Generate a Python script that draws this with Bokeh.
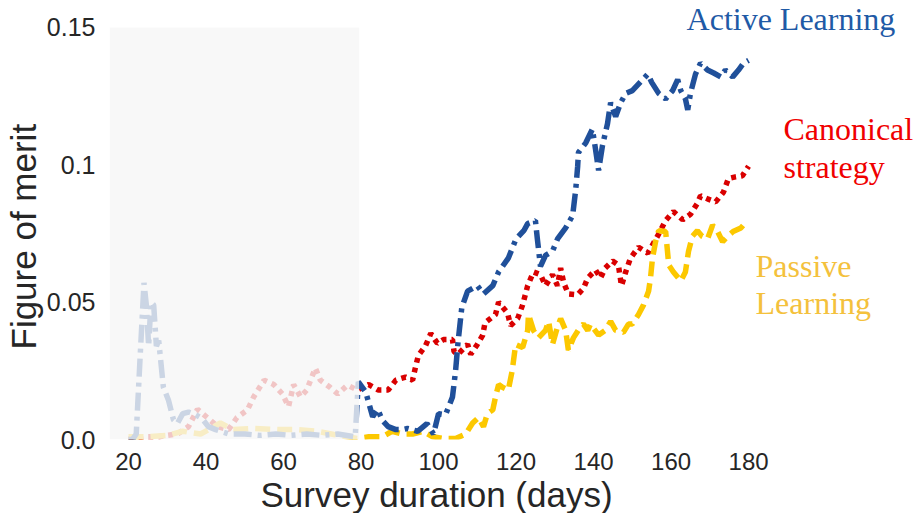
from bokeh.plotting import figure
from bokeh.models import BoxAnnotation, Label, FixedTicker, Range1d, Title
from bokeh.embed import file_html
from bokeh.resources import INLINE

# ---- data ----
active_days = [20, 21, 22, 23, 24, 24.6, 25.2, 25.8, 26.5, 27.2,
               27.8, 29, 30.3, 31.6, 32.6, 34, 35.5, 37.3, 39, 40.6,
               42.5, 46, 50, 54, 58, 62, 66, 70, 74, 78.5,
               79.3, 81.2, 83, 84.3, 85.5, 87, 89, 90.7, 92, 94.6,
               97, 98.7, 100, 101.8, 103.6, 104.4, 105, 106, 107.5, 110,
               111.6, 114, 115.5, 118, 120, 122, 123, 125, 125.5, 126.3,
               127.6, 129.4, 130.7, 132.8, 134.6, 135.4, 135.9, 136.1, 138, 139.7,
               140.5, 141.3, 142.3, 143.6, 144.4, 145.7, 147, 148.3, 150, 152,
               154, 155, 156.8, 158.6, 160.4, 161.7, 162.5, 163.7, 164.3, 165,
               166.3, 167.6, 169.4, 171, 172.8, 174, 175.9, 177.4, 178.7, 180]
active_fom = [0.0, 0.0, 0.002, 0.03, 0.057, 0.049, 0.034, 0.05, 0.049, 0.034,
              0.036, 0.019, 0.0144, 0.0072, 0.0058, 0.0094, 0.010, 0.009, 0.0076, 0.0047,
              0.0036, 0.002, 0.002, 0.0015, 0.002, 0.0015, 0.002, 0.0015, 0.002, 0.001,
              0.021, 0.0173, 0.0083, 0.011, 0.007, 0.0047, 0.0036, 0.0036, 0.004, 0.003,
              0.0058, 0.002, 0.0094, 0.009, 0.0155, 0.025, 0.035, 0.048, 0.054, 0.056,
              0.053, 0.056, 0.061, 0.066, 0.073, 0.076, 0.0786, 0.0797, 0.073, 0.063,
              0.067, 0.0685, 0.073, 0.077, 0.0815, 0.091, 0.0995, 0.1045, 0.108, 0.113,
              0.1057, 0.098, 0.107, 0.115, 0.1226, 0.1176, 0.1226, 0.126, 0.127, 0.130,
              0.133, 0.130, 0.126, 0.124, 0.127, 0.131, 0.127, 0.124, 0.120, 0.126,
              0.133, 0.137, 0.1345, 0.1334, 0.132, 0.1345, 0.132, 0.1345, 0.137, 0.138]

canonical_days = [20, 24, 27.5, 30, 32.6, 35.5, 37.8, 40.3, 43, 45.8,
                  48, 50.7, 52.3, 55, 57.5, 59.7, 61.3, 62.6, 64.4, 66,
                  68.2, 69.5, 72, 74, 76.5, 79, 82, 84.5, 87, 89,
                  91.5, 93.3, 94, 94.8, 96.6, 98, 99.7, 101.3, 103.6, 104,
                  105, 107.5, 108.3, 110, 111.4, 112, 114.7, 115.5, 117.8, 118.6,
                  120.4, 121.7, 123, 124.5, 126.3, 127.6, 129.4, 130.7, 131.5, 132.3,
                  133.5, 135.9, 137.4, 138.5, 140.5, 141.8, 143, 144.9, 146.4, 147.2,
                  148.3, 149.5, 151.6, 154, 156.5, 158.6, 160.6, 163, 165, 166.8,
                  167.6, 169.4, 171.5, 173.5, 174.8, 176.6, 178.4, 180]
canonical_fom = [0.0, 0.001, 0.001, 0.0015, 0.002, 0.0047, 0.011, 0.008, 0.0047, 0.0036,
                 0.008, 0.0108, 0.0155, 0.0216, 0.020, 0.0166, 0.012, 0.020, 0.0155, 0.018,
                 0.026, 0.0216, 0.019, 0.0166, 0.0198, 0.018, 0.020, 0.018, 0.018, 0.0216,
                 0.0227, 0.0216, 0.026, 0.0306, 0.034, 0.0386, 0.035, 0.0364, 0.0364, 0.032,
                 0.031, 0.0346, 0.031, 0.0346, 0.038, 0.0425, 0.0455, 0.050, 0.046, 0.0415,
                 0.044, 0.049, 0.056, 0.061, 0.060, 0.056, 0.060, 0.056, 0.0624, 0.057,
                 0.053, 0.0527, 0.055, 0.0588, 0.0617, 0.0588, 0.0624, 0.065, 0.0635, 0.056,
                 0.061, 0.066, 0.070, 0.0678, 0.074, 0.0797, 0.083, 0.080, 0.082, 0.086,
                 0.0887, 0.0876, 0.0865, 0.090, 0.095, 0.0956, 0.096, 0.0995]

passive_days = [20, 25, 30, 34, 38.6, 43.7, 47, 52.3, 58.5, 63.6,
                68.8, 73, 79, 82, 85.5, 88, 90.7, 93.3, 96, 98.5,
                101, 104.4, 107, 108.8, 110.3, 111.6, 112.6, 114, 114.7, 115.5,
                116.5, 118, 119, 119.9, 121.7, 123, 123.2, 124.5, 125.8, 127.6,
                128.4, 129.4, 130.7, 131.5, 132.8, 133.5, 134.8, 136.6, 137.4, 138.5,
                139.2, 141.3, 143, 144.4, 145.7, 147.7, 149, 150, 151.6, 152.9,
                154.2, 154.7, 155.2, 156, 156.8, 158.6, 159, 159.4, 160.6, 162.5,
                163.7, 164.5, 165.5, 166.8, 168, 169.4, 170.7, 172, 173.3, 174.6,
                176, 178, 179.7]
passive_fom = [0.001, 0.001, 0.0015, 0.003, 0.002, 0.006, 0.0036, 0.004, 0.0036, 0.0036,
               0.003, 0.0018, 0.0004, 0.001, 0.001, 0.003, 0.002, 0.002, 0.003, 0.001,
               0.0004, 0.0004, 0.002, 0.006, 0.008, 0.0047, 0.0094, 0.0108, 0.0155, 0.020,
               0.019, 0.018, 0.025, 0.0346, 0.0335, 0.0397, 0.0455, 0.0397, 0.037, 0.0397,
               0.043, 0.0346, 0.041, 0.044, 0.0397, 0.0325, 0.037, 0.041, 0.042, 0.0397,
               0.042, 0.038, 0.0397, 0.043, 0.0397, 0.039, 0.042, 0.042, 0.0455, 0.049,
               0.054, 0.0588, 0.066, 0.072, 0.076, 0.0757, 0.0696, 0.0635, 0.061, 0.0577,
               0.061, 0.0685, 0.074, 0.076, 0.074, 0.073, 0.078, 0.0757, 0.072, 0.074,
               0.0757, 0.077, 0.0797]

x_ticks = [20, 40, 60, 80, 100, 120, 140, 160, 180]
y_ticks = [0.0, 0.05, 0.1, 0.15]
y_tick_labels = ["0.0", "0.05", "0.1", "0.15"]
training_end = 79.5
y_top = 0.15

assert len(active_days) == len(active_fom)
assert len(canonical_days) == len(canonical_fom)
assert len(passive_days) == len(passive_fom)

BLUE = "#20509a"
RED = "#d90000"
YELLOW = "#fcc800"

p = figure(width=919, height=513, output_backend="svg", toolbar_location=None,
           x_range=Range1d(15.1, 224.1), y_range=Range1d(0, 0.1598),
           min_border_left=109, min_border_right=0, min_border_top=0,
           min_border_bottom=0, outline_line_color=None,
           background_fill_color="white", border_fill_color="white")

p.line(canonical_days, canonical_fom, line_color=RED, line_width=5.5, line_dash="5 5")
p.line(passive_days, passive_fom, line_color=YELLOW, line_width=5.5, line_dash="15 7")
p.line(active_days, active_fom, line_color=BLUE, line_width=5.5, line_dash="18 6 4 6")

# shaded early period (fades the curves beneath it)
p.add_layout(BoxAnnotation(right=training_end, top=y_top, bottom=0,
                           fill_color="#f6f6f6", fill_alpha=0.8,
                           line_color=None, level="overlay"))

p.grid.visible = False
for ax in (p.xaxis[0], p.yaxis[0]):
    ax.axis_line_color = None
    ax.major_tick_line_color = None
    ax.minor_tick_line_color = None
    ax.major_label_text_font = "Liberation Sans"
    ax.major_label_text_color = "#262626"
p.xaxis.major_label_text_font_size = "24px"
p.yaxis.major_label_text_font_size = "25px"

p.xaxis.ticker = FixedTicker(ticks=x_ticks)
p.yaxis.ticker = FixedTicker(ticks=y_ticks)
p.yaxis.major_label_overrides = {t: s for t, s in zip(y_ticks, y_tick_labels)}
p.xaxis.major_label_standoff = 7
p.yaxis.major_label_standoff = 8

xt = Title(text="Survey duration (days)", align="left", offset=151, standoff=0,
           text_font="Liberation Sans", text_font_size="35px",
           text_font_style="normal", text_color="#262626")
p.add_layout(xt, "below")
yt = Title(text="Figure of merit", align="left", offset=90, standoff=2,
           text_font="Liberation Sans", text_font_size="35px",
           text_font_style="normal", text_color="#262626")
p.add_layout(yt, "left")

serif = "Liberation Serif"
labels = [
    ("Active Learning", 164.0, 0.1529, "#1f5aa6"),
    ("Canonical", 189.0, 0.1129, "#f00000"),
    ("strategy", 189.0, 0.0992, "#f00000"),
    ("Passive", 181.8, 0.0631, "#f4c13c"),
    ("Learning", 181.8, 0.0498, "#f4c13c"),
]
for txt, lx, ly, col in labels:
    p.add_layout(Label(x=lx, y=ly, text=txt, text_font=serif, text_font_size="32px",
                       text_color=col, text_baseline="middle", text_align="left"))

open("out.html", "w").write(file_html(p, INLINE))
